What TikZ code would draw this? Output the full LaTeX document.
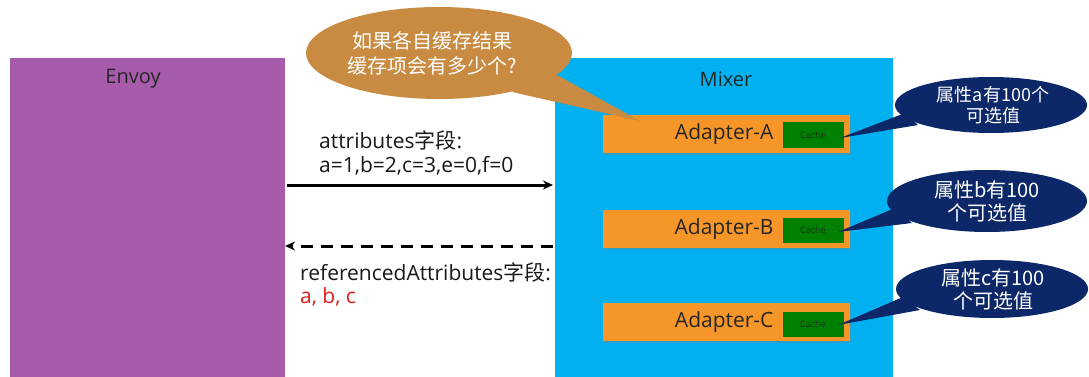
\documentclass[tikz,border=0pt]{standalone}
\usepackage{fontspec}
\setmainfont{Open Sans}
\newfontfamily\cjk{Noto Sans CJK SC}
\usetikzlibrary{arrows.meta,shadows,shapes.geometric}
\definecolor{envoyc}{RGB}{166,91,171}
\definecolor{mixerc}{RGB}{0,176,240}
\definecolor{adapc}{RGB}{247,150,40}
\definecolor{cachec}{RGB}{0,128,0}
\definecolor{brownc}{RGB}{201,139,66}
\definecolor{navyc}{RGB}{12,40,105}
\definecolor{redc}{RGB}{220,30,30}
\tikzset{
  panel/.style={draw=none, minimum height=319pt, anchor=north west},
  adapter/.style={fill=adapc, minimum width=247pt, minimum height=38pt, anchor=north west, inner sep=0pt,
     drop shadow={shadow xshift=1pt, shadow yshift=-1.5pt, opacity=0.35}},
  cachebox/.style={fill=cachec, minimum width=61pt, minimum height=25pt, inner sep=0pt,
     font=\fontsize{9}{10}\selectfont, text=black!85},
  adlabel/.style={font=\fontsize{21}{24}\selectfont, text=black!85, anchor=east},
  lbl/.style={font=\fontsize{21}{24}\selectfont, anchor=base west, inner sep=0pt, text=black!90},
  title/.style={font=\fontsize{20}{24}\selectfont, text=black!85},
  navybubble/.style={ellipse, fill=navyc, inner sep=0pt},
  bubbletext/.style={text=white, align=center, inner sep=0pt},
  arr/.style={line width=3pt, -{Stealth[length=10pt,width=9pt]}},
}
\begin{document}
\begin{tikzpicture}[x=1pt,y=-1pt]
\fill[white] (0,0) rectangle (1089,377);
\useasboundingbox (0,0) rectangle (1089,377);
% panels
\node[panel, fill=envoyc, minimum width=275pt] (envoy) at (10,58) {};
\node[panel, fill=mixerc, minimum width=338pt] (mixer) at (555,58) {};
\node[title] (envoyl) at (133,79) {Envoy};
\node[title] (mixerl) at (726,79) {Mixer};
% arrows
\coordinate (a1) at (287,185);
\coordinate (a2) at (553,185);
\coordinate (b1) at (553,246);
\coordinate (b2) at (285,246);
\draw[arr] (a1) -- (a2);
\draw[arr, dash pattern=on 12pt off 8pt] (b1) -- (b2);
% labels
\node[lbl] (t1) at (319,148) {attributes{\cjk 字段}:};
\node[lbl] (t2) at (319,172) {a=1,b=2,c=3,e=0,f=0};
\node[lbl] (t3) at (300,280) {referencedAttributes{\cjk 字段}:};
\node[lbl, text=redc] (t4) at (300,303) {a, b, c};
% adapters
\node[adapter] (adA) at (603,115) {};
\node[adapter] (adB) at (603,210) {};
\node[adapter] (adC) at (603,303) {};
\node[adlabel] (lA) at (777,134) {Adapter-A};
\node[adlabel] (lB) at (777,229) {Adapter-B};
\node[adlabel] (lC) at (777,322) {Adapter-C};
\node[cachebox] (cA) at (813,135) {Cache};
\node[cachebox] (cB) at (813,230) {Cache};
\node[cachebox] (cC) at (813,324) {Cache};
% brown callout
\fill[brownc] (548,70) -- (640,121) -- (512,92) -- cycle;
\node[ellipse, fill=brownc, minimum width=266pt, minimum height=92pt, inner sep=0pt] (q) at (439,53) {};
\node[bubbletext, font=\fontsize{20}{25}\selectfont\cjk] (qt) at (432,53) {如果各自缓存结果\\缓存项会有多少个?};
% navy callouts
\fill[navyc] (905,113) -- (840,138) -- (918,125) -- cycle;
\node[navybubble, minimum width=192pt, minimum height=56pt] (nA) at (991,105) {};
\node[bubbletext, font=\fontsize{18}{21}\selectfont\cjk] (nAt) at (993,105) {属性a有100个\\可选值};
\fill[navyc] (895,208) -- (838,232) -- (912,223) -- cycle;
\node[navybubble, minimum width=200pt, minimum height=62pt] (nB) at (987,201) {};
\node[bubbletext, font=\fontsize{20}{23}\selectfont\cjk] (nBt) at (987,201) {属性b有100\\个可选值};
\fill[navyc] (903,297) -- (838,325) -- (920,310) -- cycle;
\node[navybubble, minimum width=192pt, minimum height=58pt] (nC) at (992,289) {};
\node[bubbletext, font=\fontsize{20}{23}\selectfont\cjk] (nCt) at (993,289) {属性c有100\\个可选值};
\end{tikzpicture}
\end{document}
